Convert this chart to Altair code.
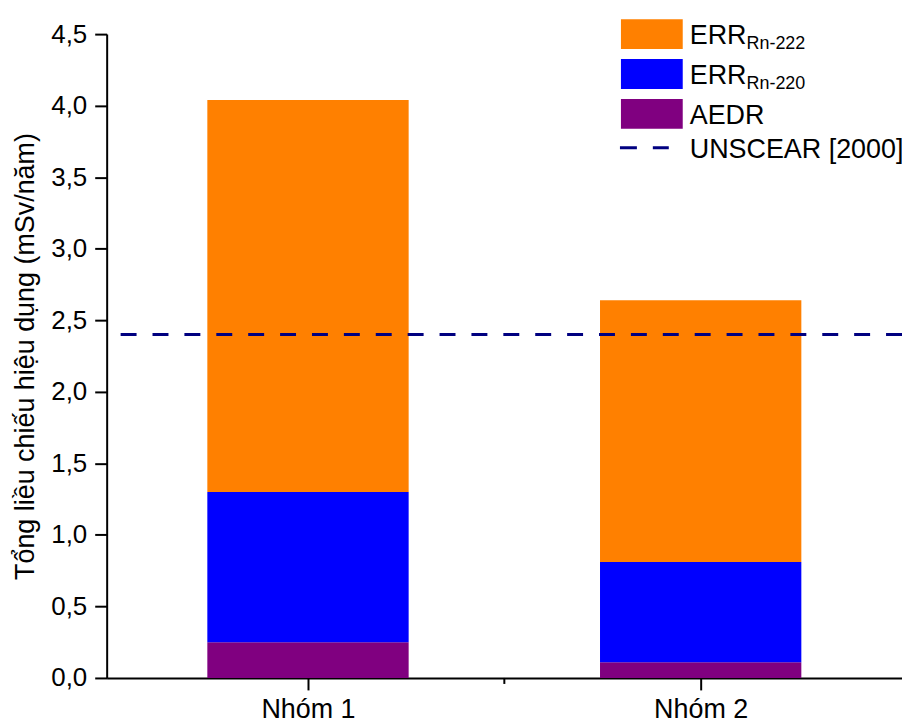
import json
import altair as alt
import pandas as pd

# ---- data ----
groups = ["Nhóm 1", "Nhóm 2"]
group_pos = [1, 2]
aedr = [0.25, 0.11]
err_rn220 = [1.05, 0.70]
err_rn222 = [2.74, 1.83]
unscear = [2.4]

series_names = ["AEDR", "ERR Rn-220", "ERR Rn-222"]
series_colors = ["#800080", "#0000FF", "#FF8000"]
y_ticks = [0.0, 0.5, 1.0, 1.5, 2.0, 2.5, 3.0, 3.5, 4.0, 4.5]

rows = []
for i, g in enumerate(groups):
    base = 0.0
    for name, vals in zip(series_names, [aedr, err_rn220, err_rn222]):
        rows.append(dict(group=g, pos=group_pos[i], series=name, y0=base, y1=base + vals[i]))
        base += vals[i]
df = pd.DataFrame(rows)

FONT = "Liberation Sans"
W, H = 798, 646

xscale = alt.Scale(domain=[0.5, 2.5], nice=False, zero=False)
yscale = alt.Scale(domain=[0, 4.5], nice=False)

x_label_expr = json.dumps(groups) + "[datum.value - 1]"

bars = alt.Chart(df).mark_bar(size=202).encode(
    x=alt.X("pos:Q", scale=xscale,
            axis=alt.Axis(values=group_pos, labelExpr=x_label_expr, title=None,
                          labelFontSize=27, labelPadding=7)),
    y=alt.Y("y0:Q", scale=yscale,
            axis=alt.Axis(values=y_ticks,
                          labelExpr="replace(format(datum.value, '.1f'), '.', ',')",
                          title="Tổng liều chiếu hiệu dụng (mSv/năm)",
                          titleFontSize=27, titleFont=FONT, titleFontWeight="normal",
                          titleColor="black", titleAngle=-90, titleX=-73, titleY=323,
                          titleAlign="center", titleBaseline="alphabetic",
                          labelFontSize=26, labelPadding=8)),
    y2="y1:Q",
    color=alt.Color("series:N", scale=alt.Scale(domain=series_names, range=series_colors), legend=None),
)

minor_tick = alt.Chart(pd.DataFrame({"x": [1.5]})).mark_rule(color="black", strokeWidth=2).encode(
    x=alt.X("x:Q", scale=xscale), y=alt.value(H), y2=alt.value(H + 6)
)

ref_line = alt.Chart(pd.DataFrame({"y": unscear})).mark_rule(
    color="#000080", strokeWidth=3, strokeDash=[16, 16]
).encode(y=alt.Y("y:Q", scale=yscale))

dummy = pd.DataFrame({"a": [0]})

def swatch(color, y_top):
    return alt.Chart(dummy).mark_rect(color=color).encode(
        x=alt.value(516), x2=alt.value(578), y=alt.value(y_top), y2=alt.value(y_top + 30)
    )

def label(text, y, x=585, size=27):
    return alt.Chart(dummy).mark_text(
        text=text, align="left", baseline="alphabetic", fontSize=size, font=FONT, color="black"
    ).encode(x=alt.value(x), y=alt.value(y))

legend_layers = [
    swatch("#FF8000", -15), label("ERR", 10), label("Rn-222", 15, x=642, size=18),
    swatch("#0000FF", 25), label("ERR", 50), label("Rn-220", 55, x=642, size=18),
    swatch("#800080", 65), label("AEDR", 90),
    alt.Chart(dummy).mark_rule(color="#000080", strokeWidth=3, strokeDash=[17, 16]).encode(
        x=alt.value(515), x2=alt.value(564), y=alt.value(114)
    ),
    label("UNSCEAR [2000]", 124),
]

chart = alt.layer(bars, minor_tick, ref_line, *legend_layers).properties(
    width=W, height=H,
    autosize=alt.AutoSizeParams(type="none"),
    padding={"left": 99, "top": 25, "right": 0, "bottom": 44},
    background="white",
).configure_view(stroke="transparent").configure_axis(
    grid=False, domainColor="black", domainWidth=2, tickColor="black", tickWidth=2,
    tickSize=12, labelFont=FONT, labelColor="black", titleFont=FONT,
)

chart.save("out.html", embed_options={"renderer": "svg", "actions": False})
